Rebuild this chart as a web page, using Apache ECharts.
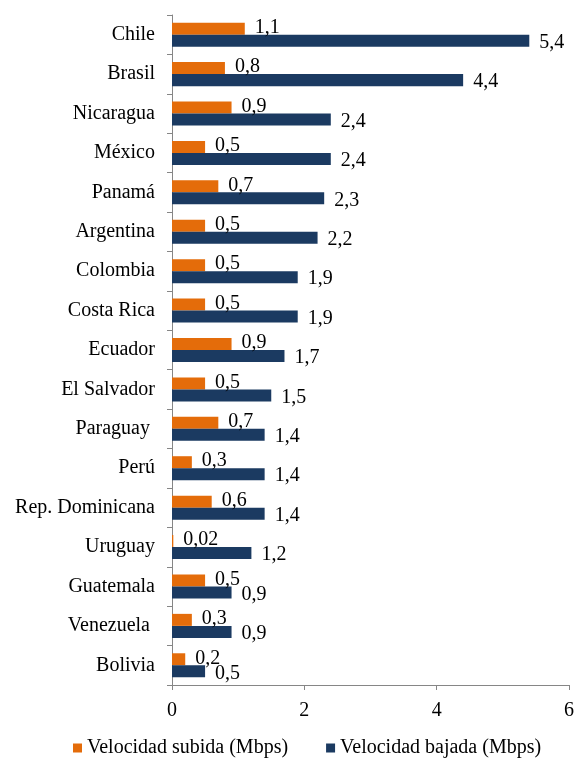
<!DOCTYPE html>
<html>
<head>
<meta charset="utf-8">
<script src="https://cdn.jsdelivr.net/npm/echarts@6/dist/echarts.min.js"></script>
<style>
  html, body { margin: 0; padding: 0; background: #ffffff; }
  #chart { width: 577px; height: 759px; }
</style>
</head>
<body>
<div id="chart"></div>
<script>
// Countries, listed top to bottom (two names carry a trailing space in the source table)
const countries = [
  'Chile', 'Brasil', 'Nicaragua', 'México', 'Panamá', 'Argentina', 'Colombia',
  'Costa Rica', 'Ecuador', 'El Salvador', 'Paraguay ', 'Perú', 'Rep. Dominicana',
  'Uruguay', 'Guatemala', 'Venezuela ', 'Bolivia'
];
// Upload speed (Mbps)
const subida = [1.1, 0.8, 0.9, 0.5, 0.7, 0.5, 0.5, 0.5, 0.9, 0.5, 0.7, 0.3, 0.6, 0.02, 0.5, 0.3, 0.2];
// Download speed (Mbps)
const bajada = [5.4, 4.4, 2.4, 2.4, 2.3, 2.2, 1.9, 1.9, 1.7, 1.5, 1.4, 1.4, 1.4, 1.2, 0.9, 0.9, 0.5];
const seriesNames = ['Velocidad subida (Mbps)', 'Velocidad bajada (Mbps)'];
const xTicks = { min: 0, max: 6, interval: 2 };

const FONT = '"Liberation Serif", "Times New Roman", serif';
const SIZE = 20;
const ORANGE = '#E46C0A';
const NAVY = '#1B3A61';
const AXIS = '#868686';

// Spanish decimal comma
const fmt = v => String(v).replace('.', ',');

const chart = echarts.init(document.getElementById('chart'), null, { renderer: 'canvas' });
chart.setOption({
  animation: false,
  backgroundColor: '#ffffff',
  textStyle: { fontFamily: FONT, color: '#000' },
  grid: { left: 172, right: 7, top: 15, bottom: 74, containLabel: false },
  legend: {
    top: 733,
    left: 68,
    itemWidth: 9,
    itemHeight: 9,
    itemGap: 38,
    icon: 'rect',
    textStyle: { fontFamily: FONT, fontSize: SIZE, color: '#000' },
    data: seriesNames
  },
  xAxis: {
    type: 'value',
    min: xTicks.min,
    max: xTicks.max,
    interval: xTicks.interval,
    axisLine: { show: true, lineStyle: { color: AXIS, width: 1 } },
    axisTick: { show: true, length: 5, lineStyle: { color: AXIS } },
    splitLine: { show: false },
    axisLabel: { fontFamily: FONT, fontSize: SIZE, color: '#000', margin: 16 }
  },
  yAxis: {
    type: 'category',
    inverse: true,
    data: countries,
    axisLine: { show: true, lineStyle: { color: AXIS, width: 1 } },
    axisTick: { show: true, length: 5, lineStyle: { color: AXIS } },
    axisLabel: { fontFamily: FONT, fontSize: SIZE, color: '#000', margin: 17 }
  },
  series: [
    {
      name: seriesNames[0],
      type: 'bar',
      data: subida,
      barCategoryGap: '39%',
      barGap: '0%',
      itemStyle: { color: ORANGE },
      label: {
        show: true,
        position: 'right',
        distance: 10,
        offset: [0, -1],
        fontFamily: FONT,
        fontSize: SIZE,
        color: '#000',
        formatter: p => fmt(p.value)
      }
    },
    {
      name: seriesNames[1],
      type: 'bar',
      data: bajada,
      barCategoryGap: '39%',
      barGap: '0%',
      itemStyle: { color: NAVY },
      label: {
        show: true,
        position: 'right',
        distance: 10,
        offset: [0, 2],
        fontFamily: FONT,
        fontSize: SIZE,
        color: '#000',
        formatter: p => fmt(p.value)
      }
    }
  ]
});
</script>
</body>
</html>
